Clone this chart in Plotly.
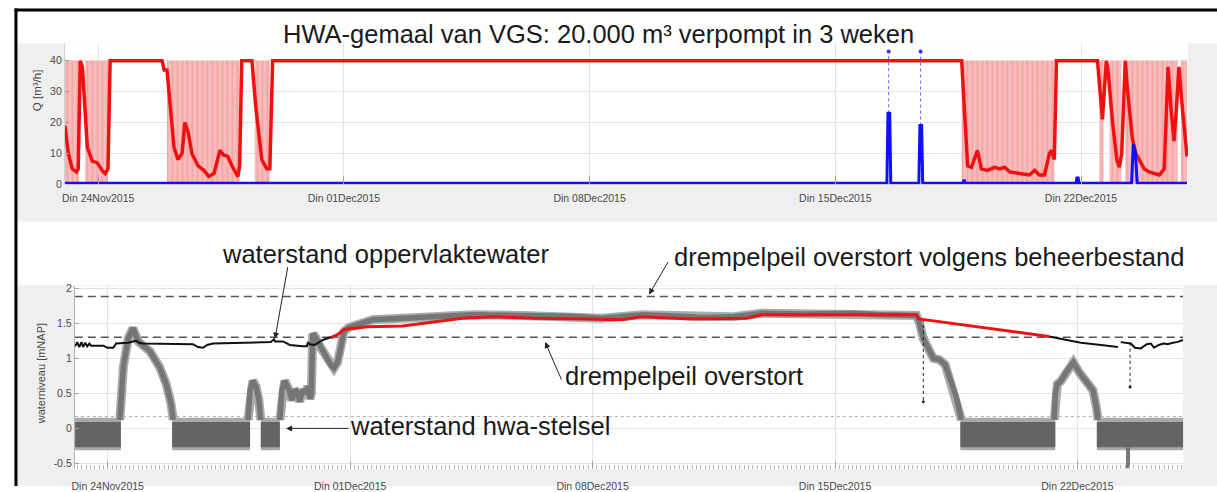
import plotly.graph_objects as go
import pandas as pd

W, H = 1217, 492
T0 = pd.Timestamp("2015-11-23 00:00")
X_START, X_END = 0.05, 32.05   # days since T0

# ---------------- top panel: pumped flow Q [m3/h] ----------------
q_red_days = [0.05, 0.15, 0.26, 0.38, 0.43, 0.49, 0.55, 0.69, 0.83, 0.97, 1.11, 1.20, 1.28, 1.34,
              2.82, 2.88, 2.96, 3.05, 3.16, 3.27, 3.39, 3.47, 3.56, 3.67, 3.84, 4.01, 4.15, 4.30,
              4.47, 4.57, 4.69, 4.81, 4.98, 5.03, 5.09, 5.38, 5.49, 5.66, 5.80, 5.89, 5.97,
              25.60, 25.71, 25.77, 25.88, 26.05, 26.16, 26.33, 26.54, 26.68, 26.82, 26.97, 27.25,
              27.53, 27.68, 27.81, 27.96, 28.10, 28.16, 28.24, 28.30,
              29.47, 29.61, 29.72, 29.76, 29.90, 30.02, 30.09, 30.16, 30.26, 30.33, 30.46, 30.56,
              30.66, 30.80, 30.94, 31.08, 31.23, 31.37, 31.43, 31.48, 31.56, 31.65, 31.72, 31.79,
              31.86, 32.02]
q_red_vals = [19, 10, 5, 4, 5, 40, 38, 12, 7.5, 7, 4.5, 3.5, 5, 40,
              40, 37, 37, 25, 12, 8, 10, 20, 17, 10, 6, 4.5, 2.5, 3.5,
              11, 9.5, 9, 6, 2.5, 6, 40, 40, 25, 8, 5, 5, 40,
              40, 15, 6, 5.5, 11, 5, 4.5, 5.5, 5, 5.5, 4, 3.5,
              3, 4.5, 3, 3, 10, 11, 8, 40,
              40, 21, 40, 38, 20, 8, 5.5, 10, 40, 30, 15, 10,
              8, 5, 4, 3.5, 3, 5, 20, 38, 25, 14, 25, 38,
              28, 9]

shade_start = [0.05, 0.63, 2.96, 5.46, 25.60, 29.52, 29.81, 30.26, 31.85]
shade_end = [0.46, 1.28, 5.03, 5.89, 28.24, 29.64, 30.15, 31.75, 32.02]

q_blue_days = [0.05, 23.47, 23.50, 23.55, 23.58, 24.38, 24.41, 24.46, 24.49, 25.64, 25.67,
               25.70, 28.86, 28.88, 28.92, 28.94, 30.44, 30.49, 30.55, 30.60, 32.02]
q_blue_vals = [0.3, 0.3, 23, 23, 0.3, 0.3, 19, 19, 0.3, 0.3, 1.5,
               0.3, 0.3, 2, 2, 0.3, 0.3, 13, 10, 0.3, 0.3]
blue_top_days = [23.52, 24.43]
blue_top_vals = [43, 43]
blue_spike_vals = [23, 19]

# ---------------- bottom panel: water levels [mNAP] ----------------
opp_days = [0.06, 0.12, 0.18, 0.24, 0.29, 0.35, 0.41, 0.47, 0.52, 0.73, 0.87, 0.99, 1.16, 1.24,
            1.59, 1.73, 1.82, 1.91, 2.02, 3.46, 3.61, 3.75, 3.87, 4.04, 4.90, 5.71, 5.80, 5.83,
            6.06, 6.26, 6.63, 6.75, 6.78, 6.83, 6.98, 7.21, 7.50,
            None,
            28.18, 29.10, 29.68, 30.11, 30.17,
            None,
            30.25, 30.54, 30.66, 30.83, 31.00, 31.12, 31.21, 31.35, 31.49, 31.61, 31.75, 31.87, 32.05]
opp_vals = [1.17, 1.23, 1.16, 1.23, 1.16, 1.22, 1.17, 1.21, 1.18, 1.18, 1.18, 1.15, 1.15, 1.21,
            1.22, 1.24, 1.25, 1.22, 1.21, 1.20, 1.16, 1.15, 1.19, 1.21, 1.22, 1.23, 1.27, 1.24,
            1.24, 1.19, 1.17, 1.17, 1.23, 1.20, 1.19, 1.26, 1.31,
            None,
            1.31, 1.22, 1.19, 1.17, 1.16,
            None,
            1.23, 1.21, 1.15, 1.14, 1.20, 1.21, 1.15, 1.19, 1.21, 1.20, 1.22, 1.23, 1.26]

model_days = [7.44, 7.64, 7.82, 8.50, 9.51, 10.23, 11.24, 12.20, 13.30, 14.90, 15.85, 16.40,
              17.87, 19.45, 19.90, 21.60, 23.34, 24.35, 24.42, 28.18]
model_vals = [1.29, 1.34, 1.41, 1.45, 1.46, 1.51, 1.57, 1.59, 1.57, 1.56, 1.55, 1.59,
              1.56, 1.57, 1.62, 1.62, 1.62, 1.62, 1.56, 1.31]

hwa_days = [1.35, 1.38, 1.45, 1.59, 1.73, 1.88, 2.22, 2.50, 2.69, 2.83, 2.89, None,
            5.05, 5.11, 5.19, 5.28, 5.36, 5.42, None,
            5.97, 6.03, 6.11, 6.23, 6.32, 6.40, 6.49, 6.54, 6.63, 6.72, 6.78, 6.84, 6.88,
            6.92, 7.00, 7.15, 7.27, 7.42, 7.53, 7.64, 7.73, 7.82, 7.96, 8.22, 8.65, 9.51,
            10.38, 11.53, 12.97, 14.41, 15.27, 16.43, 17.58, 18.16, 19.02, 19.88, 21.04,
            22.48, 23.34, 24.35, 24.44, 24.55, 24.84, 25.01, 25.18, 25.36, 25.50, 25.65, None,
            28.33, 28.36, 28.42, 28.53, 28.67, 28.88, 29.05, 29.16, 29.31, 29.45, 29.56, 29.59]
hwa_vals = [0.12, 0.31, 0.87, 1.28, 1.43, 1.24, 1.10, 0.87, 0.63, 0.35, 0.12, None,
            0.12, 0.55, 0.68, 0.60, 0.42, 0.12, None,
            0.12, 0.55, 0.68, 0.55, 0.40, 0.55, 0.50, 0.38, 0.55, 0.50, 0.60, 0.42, 0.50,
            1.35, 1.30, 1.15, 1.05, 0.92, 0.86, 0.95, 1.15, 1.38, 1.44, 1.48, 1.55, 1.57,
            1.59, 1.62, 1.61, 1.60, 1.57, 1.62, 1.60, 1.58, 1.59, 1.64, 1.63,
            1.64, 1.62, 1.61, 1.50, 1.28, 1.00, 0.98, 0.91, 0.63, 0.45, 0.12, None,
            0.12, 0.50, 0.63, 0.68, 0.80, 0.94, 0.80, 0.72, 0.63, 0.54, 0.26, 0.12]

hwa_band_start = [0.06, 2.86, 5.42, 25.62, 29.56]
hwa_band_end = [1.38, 5.11, 5.97, 28.36, 32.07]
hwa_band_low, hwa_band_high = -0.27, 0.09
hwa_halo_low, hwa_halo_high = -0.31, 0.15
hwa_spike_day, hwa_spike_low = 30.46, -0.57

dropout_days = [24.55, 30.52]
dropout_top = [1.56, 1.22]
dropout_bottom = [0.38, 0.59]

drempel_beheer = 1.88
drempel = 1.30
ref_level = 0.17

tick_dates = ["2015-11-24", "2015-12-01", "2015-12-08", "2015-12-15", "2015-12-22"]
tick_labels = ["Din 24Nov2015", "Din 01Dec2015", "Din 08Dec2015", "Din 15Dec2015", "Din 22Dec2015"]


def to_dt(days):
    return [None if d is None else T0 + pd.Timedelta(days=d) for d in days]


def px(x):
    return x / W


def py(y):
    return 1 - y / H


FONT = "Liberation Sans, Arial, sans-serif"
fig = go.Figure()

# ---- top traces ----
sx, sy = [], []
for s, e in zip(shade_start, shade_end):
    sx += [s, s, e, e, None]
    sy += [0, 40, 40, 0, None]
fig.add_trace(go.Scatter(x=to_dt(sx), y=sy, mode="lines", fill="toself", line=dict(width=0),
                         fillcolor="#f6b4b4",
                         fillpattern=dict(shape="|", bgcolor="#f8bdbd", fgcolor="#ef8a8a",
                                          size=5, solidity=0.35),
                         xaxis="x", yaxis="y", hoverinfo="skip", showlegend=False))
fig.add_trace(go.Scatter(x=to_dt(q_red_days), y=q_red_vals, mode="lines",
                         line=dict(color="#f01010", width=3.5), xaxis="x", yaxis="y", showlegend=False))
dx, dy = [], []
for d, v0, v1 in zip(blue_top_days, blue_spike_vals, blue_top_vals):
    dx += [d, d, None]
    dy += [v0, v1, None]
fig.add_trace(go.Scatter(x=to_dt(dx), y=dy, mode="lines", line=dict(color="#6060ff", width=1, dash="dot"),
                         xaxis="x", yaxis="y", showlegend=False))
fig.add_trace(go.Scatter(x=to_dt(blue_top_days), y=blue_top_vals, mode="markers",
                         marker=dict(color="#3030ff", size=4), xaxis="x", yaxis="y", showlegend=False))
fig.add_trace(go.Scatter(x=to_dt(q_blue_days), y=q_blue_vals, mode="lines",
                         line=dict(color="#1010ff", width=3), xaxis="x", yaxis="y", showlegend=False))

# ---- bottom traces ----
fig.add_trace(go.Scatter(x=to_dt([X_START, X_END]), y=[ref_level, ref_level], mode="lines",
                         line=dict(color="#b0b0b0", width=1, dash="dot"), xaxis="x2", yaxis="y2", showlegend=False))
for lvl in (drempel_beheer, drempel):
    fig.add_trace(go.Scatter(x=to_dt([X_START, X_END]), y=[lvl, lvl], mode="lines",
                             line=dict(color="#555555", width=1.6, dash="8px,5px"),
                             xaxis="x2", yaxis="y2", showlegend=False))


def band(lo, hi):
    bx, by = [], []
    for s, e in zip(hwa_band_start, hwa_band_end):
        bx += [s, s, e, e, None]
        by += [lo, hi, hi, lo, None]
    return bx, by


bx, by = band(hwa_halo_low, hwa_halo_high)
fig.add_trace(go.Scatter(x=to_dt(bx), y=by, mode="lines", fill="toself", line=dict(width=0),
                         fillcolor="#a9a9a9", xaxis="x2", yaxis="y2", hoverinfo="skip", showlegend=False))
bx, by = band(hwa_band_low, hwa_band_high)
fig.add_trace(go.Scatter(x=to_dt(bx), y=by, mode="lines", fill="toself", line=dict(width=0),
                         fillcolor="#646464", xaxis="x2", yaxis="y2", hoverinfo="skip", showlegend=False))
fig.add_trace(go.Scatter(x=to_dt([hwa_spike_day, hwa_spike_day]), y=[hwa_band_low, hwa_spike_low],
                         mode="lines", line=dict(color="#777777", width=4), xaxis="x2", yaxis="y2", showlegend=False))
fig.add_trace(go.Scatter(x=to_dt(hwa_days), y=hwa_vals, mode="lines",
                         line=dict(color="#ababab", width=9), xaxis="x2", yaxis="y2", showlegend=False))
fig.add_trace(go.Scatter(x=to_dt(hwa_days), y=hwa_vals, mode="lines",
                         line=dict(color="#767676", width=5.5), xaxis="x2", yaxis="y2", showlegend=False))
ddx, ddy = [], []
for d, a, b in zip(dropout_days, dropout_top, dropout_bottom):
    ddx += [d, d, None]
    ddy += [a, b, None]
fig.add_trace(go.Scatter(x=to_dt(ddx), y=ddy, mode="lines", line=dict(color="#222222", width=1, dash="dot"),
                         xaxis="x2", yaxis="y2", showlegend=False))
fig.add_trace(go.Scatter(x=to_dt(dropout_days), y=dropout_bottom, mode="markers",
                         marker=dict(color="#222222", size=3), xaxis="x2", yaxis="y2", showlegend=False))
fig.add_trace(go.Scatter(x=to_dt(opp_days), y=opp_vals, mode="lines",
                         line=dict(color="#111111", width=2), xaxis="x2", yaxis="y2", showlegend=False))
fig.add_trace(go.Scatter(x=to_dt(model_days), y=model_vals, mode="lines",
                         line=dict(color="#e81515", width=3), xaxis="x2", yaxis="y2", showlegend=False))

# ---- axes ----
xr = [T0 + pd.Timedelta(days=X_START), T0 + pd.Timedelta(days=X_END)]
tickfont = dict(family=FONT, size=10.5, color="#4a4a4a")
common_x = dict(type="date", range=xr, tickvals=tick_dates, ticktext=tick_labels, tickfont=tickfont,
                showgrid=True, gridcolor="#e4e4e4", gridwidth=1, ticks="inside", ticklen=8,
                tickcolor="#a0a0a0", zeroline=False, showline=False)
fig.update_layout(
    width=W, height=H, margin=dict(l=0, r=0, t=0, b=0),
    paper_bgcolor="white", plot_bgcolor="white", showlegend=False,
    xaxis=dict(domain=[px(62), px(1188)], anchor="y", ticklabelstandoff=6, **common_x),
    yaxis=dict(domain=[py(184), py(40)], anchor="x", range=[0, 45.7], tickvals=[0, 10, 20, 30, 40],
               tickfont=tickfont, showgrid=True, gridcolor="#e4e4e4", ticks="inside", ticklen=4,
               tickcolor="#a0a0a0", zeroline=False, showline=True, linecolor="#d0d0d0"),
    xaxis2=dict(domain=[px(72), px(1183)], anchor="y2", ticklabelstandoff=9,
                minor=dict(ticks="inside", ticklen=4, tickcolor="#b8b8b8", dtick=3 * 3600 * 1000, showgrid=False),
                **common_x),
    yaxis2=dict(domain=[py(475), py(288)], anchor="x2", range=[-0.584, 2.028],
                tickvals=[-0.5, 0, 0.5, 1, 1.5, 2], ticktext=["-0.5", "0", "0.5", "1", "1.5", "2"],
                tickfont=tickfont, showgrid=True, gridcolor="#e4e4e4", ticks="inside", ticklen=4,
                tickcolor="#a0a0a0", zeroline=False, showline=True, linecolor="#b0b0b0"),
)

# ---- background frames ----
shapes = [
    dict(type="rect", xref="paper", yref="paper", x0=px(14), x1=1, y0=py(222), y1=py(40),
         fillcolor="#efefef", line=dict(width=0), layer="below"),
    dict(type="rect", xref="paper", yref="paper", x0=px(14), x1=1, y0=0, y1=py(287),
         fillcolor="#efefef", line=dict(width=0), layer="below"),
    dict(type="rect", xref="paper", yref="paper", x0=px(62), x1=px(1188), y0=py(184), y1=py(40),
         fillcolor="white", line=dict(width=0), layer="below"),
    dict(type="rect", xref="paper", yref="paper", x0=px(72), x1=px(1183), y0=py(475), y1=py(288),
         fillcolor="white", line=dict(width=0), layer="below"),
    dict(type="line", xref="paper", yref="paper", x0=px(13), x1=px(13), y0=0, y1=py(4.5),
         line=dict(color="black", width=3), layer="above"),
    dict(type="line", xref="paper", yref="paper", x0=px(11.5), x1=1, y0=py(6), y1=py(6),
         line=dict(color="black", width=3), layer="above"),
]
fig.update_layout(shapes=shapes)

# ---- texts ----
ann = []
ann.append(dict(text="HWA-gemaal van VGS: 20.000 m³ verpompt in 3 weken", xref="paper", yref="paper",
                x=px(597), y=py(31), xanchor="center", yanchor="middle", showarrow=False,
                font=dict(family=FONT, size=25.5, color="#1a1a1a")))
ann.append(dict(text="Q [m³/h]", xref="paper", yref="paper", x=px(34), y=py(88), textangle=-90,
                xanchor="center", yanchor="middle", showarrow=False, font=dict(family=FONT, size=11.5, color="#4a4a4a")))
ann.append(dict(text="waterniveau [mNAP]", xref="paper", yref="paper", x=px(38), y=py(377), textangle=-90,
                xanchor="center", yanchor="middle", showarrow=False, font=dict(family=FONT, size=11, color="#4a4a4a")))
big = dict(family=FONT, size=25.5, color="#1a1a1a")
ann.append(dict(text="waterstand oppervlaktewater", xref="paper", yref="paper", x=px(218), y=py(255),
                xanchor="left", yanchor="middle", showarrow=False, font=big))
ann.append(dict(text="drempelpeil overstort volgens beheerbestand", xref="paper", yref="paper", x=px(671), y=py(258),
                xanchor="left", yanchor="middle", showarrow=False, font=big))
ann.append(dict(text="drempelpeil overstort", xref="paper", yref="paper", x=px(561), y=py(380),
                xanchor="left", yanchor="middle", showarrow=False, font=big))
ann.append(dict(text="waterstand hwa-stelsel", xref="paper", yref="paper", x=px(346), y=py(431),
                xanchor="left", yanchor="middle", showarrow=False, font=big))
arrow = dict(showarrow=True, arrowhead=2, arrowsize=1.2, arrowwidth=1, arrowcolor="#222222", text="",
             xref="x2", yref="y2")
ann.append(dict(x=T0 + pd.Timedelta(days=5.83), y=1.28, ax=13, ay=-73, **arrow))
ann.append(dict(x=T0 + pd.Timedelta(days=16.63), y=1.91, ax=20, ay=-34, **arrow))
ann.append(dict(x=T0 + pd.Timedelta(days=13.63), y=1.23, ax=17, ay=39, **arrow))
ann.append(dict(x=T0 + pd.Timedelta(days=6.15), y=0.0, ax=64, ay=0, **arrow))
fig.update_layout(annotations=ann)

fig.write_html("out.html", config={"displayModeBar": False},
               post_script="document.body.style.margin='0';document.body.style.overflow='hidden';")
